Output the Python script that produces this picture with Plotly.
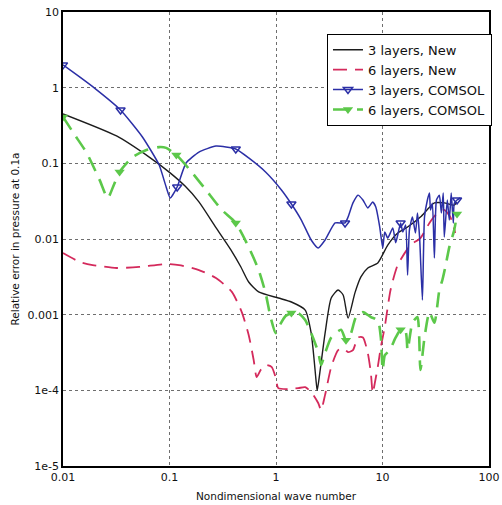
import plotly.graph_objects as go

# --- 3 layers, New ---
k_3new = [0.01, 0.0318, 0.065, 0.1, 0.14, 0.189, 0.27, 0.377, 0.467, 0.554, 0.687,
          1.055, 1.395, 1.88, 2.14, 2.39, 2.44, 2.60, 2.89, 3.30, 3.83, 4.27, 4.75,
          5.51, 6.27, 7.28, 9.03, 11.2, 13.9, 17.2, 22.7, 30.7, 38, 47, 50]
err_3new = [0.45, 0.23, 0.12, 0.076, 0.05, 0.031, 0.0145, 0.0072, 0.0043, 0.0027, 0.0020,
            0.00166, 0.00147, 0.00115, 0.00057, 0.000125, 0.0001, 0.000186, 0.00057,
            0.00166, 0.00212, 0.00182, 0.0009, 0.00194, 0.00315, 0.00414, 0.00482,
            0.0083, 0.012, 0.0144, 0.0195, 0.030, 0.030, 0.028, 0.031]

# --- 6 layers, New ---
k_6new = [0.01, 0.0144, 0.019, 0.0319, 0.052, 0.093, 0.123, 0.189, 0.273, 0.385, 0.477,
          0.554, 0.617, 0.658, 0.718, 0.798, 0.908, 0.99, 1.05, 1.31, 1.62, 1.88, 2.14,
          2.49, 2.65, 2.89, 3.30, 3.83, 4.27, 4.75, 5.28, 5.88, 6.55, 7.28, 7.77, 8.1,
          8.47, 9.03, 9.64, 10.5, 11.9, 13.9, 18.3, 22.7, 27.6, 31.4, 38, 43.3, 48.2]
err_6new = [0.00653, 0.00497, 0.00453, 0.00414, 0.00427, 0.00467, 0.00453, 0.00389,
            0.00305, 0.0020, 0.00108, 0.00054, 0.000252, 0.00015, 0.000186, 0.000216,
            0.000204, 0.00015, 0.000107, 0.000104, 0.000107, 0.00011, 0.000095,
            0.000068, 0.000055, 0.000087, 0.000204, 0.00034, 0.00036, 0.00032, 0.00034,
            0.0005, 0.0005, 0.00031, 0.00017, 0.000092, 0.000125, 0.000204, 0.00037,
            0.00069, 0.00212, 0.00454, 0.0083, 0.0103, 0.0163, 0.0207, 0.0242, 0.0195,
            0.012]

# --- 3 layers, COMSOL ---
k_3com = [0.01, 0.0138, 0.0199, 0.0347, 0.0557, 0.080, 0.093, 0.1016, 0.118, 0.143,
          0.189, 0.273, 0.419, 0.554, 0.798, 1.125, 1.395, 1.73, 2.14, 2.49, 2.89, 3.59,
          4.45, 4.75, 5.28, 5.88, 6.55, 7.28, 8.1, 8.65, 9.42, 10.05, 10.5, 11.2, 12.5,
          13.3, 13.9, 14.8, 15.5, 16.5, 17.2, 17.9, 19.1, 20.4, 21.3, 22.3, 23.7, 24.8,
          26.4, 27.6, 28.2, 29.4, 30.7, 32.1, 34.2, 35.7, 37.2, 38.0, 40.6, 42.4, 44.2,
          46.2, 47.2, 50.1, 53.7]
err_3com = [2.0, 1.44, 0.98, 0.507, 0.223, 0.095, 0.0487, 0.0348, 0.0487, 0.101, 0.141,
            0.169, 0.155, 0.118, 0.077, 0.0445, 0.029, 0.0178, 0.0097, 0.0076, 0.0097,
            0.0163, 0.0163, 0.0195, 0.030, 0.038, 0.0328, 0.0257, 0.0308, 0.0265, 0.0144,
            0.0076, 0.0124, 0.0103, 0.014, 0.0089, 0.0113, 0.0163, 0.0124, 0.0153,
            0.00334, 0.0132, 0.0195, 0.012, 0.0221, 0.0106, 0.00156, 0.0195, 0.0328,
            0.0406, 0.0242, 0.0297, 0.0056, 0.0328, 0.038, 0.0221, 0.0406, 0.0106,
            0.0328, 0.0178, 0.0406, 0.0163, 0.0297, 0.0328, 0.0348]
marks_3com = [0.01, 0.0347, 0.118, 0.419, 1.395, 4.45, 14.8, 50.1]

# --- 6 layers, COMSOL ---
k_6com = [0.01, 0.0129, 0.0167, 0.0221, 0.0263, 0.030, 0.034, 0.045, 0.0607, 0.080,
          0.093, 0.116, 0.153, 0.220, 0.310, 0.419, 0.554, 0.687, 0.798, 0.889, 0.99,
          1.05, 1.23, 1.395, 1.62, 1.88, 2.14, 2.49, 2.65, 2.89, 3.30, 4.08, 4.54, 5.06,
          5.63, 6.55, 7.77, 9.03, 9.64, 10.05, 10.5, 11.7, 13.3, 14.8, 16.5, 17.2, 19.1,
          21.3, 22.7, 24.8, 27.6, 30.7, 34.2, 36.5, 38.9, 42.4, 45.2, 47.2, 50.1]
err_6com = [0.41, 0.237, 0.137, 0.060, 0.0348, 0.0518, 0.077, 0.121, 0.150, 0.164, 0.160,
            0.129, 0.084, 0.0445, 0.0242, 0.0163, 0.0078, 0.0039, 0.00193, 0.00093,
            0.00057, 0.00067, 0.00096, 0.00105, 0.00105, 0.00085, 0.00057, 0.00032,
            0.000216, 0.00031, 0.0005, 0.00063, 0.00046, 0.00057, 0.00093, 0.00108,
            0.00093, 0.00085, 0.0005, 0.000186, 0.00029, 0.00034, 0.0005, 0.00063,
            0.00059, 0.00034, 0.00078, 0.00093, 0.000186, 0.0005, 0.00108, 0.00078,
            0.00212, 0.00287, 0.00426, 0.0078, 0.0106, 0.0132, 0.0214]
marks_6com = [0.01, 0.034, 0.116, 0.419, 1.395, 4.54, 14.8, 50.1]

x_ticks = [0.01, 0.1, 1, 10, 100]
x_ticktext = ["0.01", "0.1", "1", "10", "100"]
y_ticks = [1e-5, 1e-4, 1e-3, 1e-2, 1e-1, 1, 10]
y_ticktext = ["1e-5", "1e-4", "0.001", "0.01", "0.1", "1", "10"]

BLACK = "#1c1c1c"
RED = "#d42a5c"
BLUE = "#2b2fa6"
GREEN = "#5cc84a"
FONT = "DejaVu Sans"


def marker_colors(ks, marks, color):
    """Show the triangle only at the marked wave numbers."""
    return [color if k in marks else "rgba(0,0,0,0)" for k in ks]


fig = go.Figure()

fig.add_trace(go.Scatter(
    x=k_3new, y=err_3new, mode="lines", name="3 layers, New",
    line=dict(color=BLACK, width=1.4, shape="spline", smoothing=0.6),
))
fig.add_trace(go.Scatter(
    x=k_6new, y=err_6new, mode="lines", name="6 layers, New",
    line=dict(color=RED, width=1.8, dash="14px,8px", shape="spline", smoothing=0.6),
))
fig.add_trace(go.Scatter(
    x=k_3com, y=err_3com, mode="lines+markers", name="3 layers, COMSOL",
    line=dict(color=BLUE, width=1.5, shape="spline", smoothing=0.5),
    marker=dict(symbol="triangle-down-open", size=8,
                color=marker_colors(k_3com, marks_3com, BLUE),
                line=dict(width=1.5)),
))
fig.add_trace(go.Scatter(
    x=k_6com, y=err_6com, mode="lines+markers", name="6 layers, COMSOL",
    line=dict(color=GREEN, width=2.6, dash="15px,9px", shape="spline", smoothing=0.6),
    marker=dict(symbol="triangle-down", size=9,
                color=marker_colors(k_6com, marks_6com, GREEN),
                line=dict(width=0)),
))

axis_common = dict(
    type="log", automargin=False,
    showgrid=True, gridcolor="#6e6e6e", gridwidth=1, griddash="dot",
    showline=True, linecolor="black", linewidth=1.6, mirror=True,
    ticks="", zeroline=False,
    tickfont=dict(family=FONT, size=11, color="#111"),
    title_font=dict(family=FONT, size=10.5, color="#111"),
)

fig.update_layout(
    width=502, height=505,
    margin=dict(l=63, r=10, t=12, b=39),
    paper_bgcolor="white", plot_bgcolor="white",
    xaxis=dict(axis_common, range=[-2, 2], tickvals=x_ticks, ticktext=x_ticktext,
               title=dict(text="Nondimensional wave number", standoff=10)),
    yaxis=dict(axis_common, range=[-5, 1], tickvals=y_ticks, ticktext=y_ticktext,
               title=dict(text="Relative error in pressure at 0.1a", standoff=6)),
    legend=dict(x=1.007, y=0.952, xanchor="right", yanchor="top",
                bgcolor="white", bordercolor="black", borderwidth=1,
                font=dict(family=FONT, size=13, color="#111"),
                tracegroupgap=0, itemwidth=30),
    showlegend=True,
)

fig.write_html("out.html")
